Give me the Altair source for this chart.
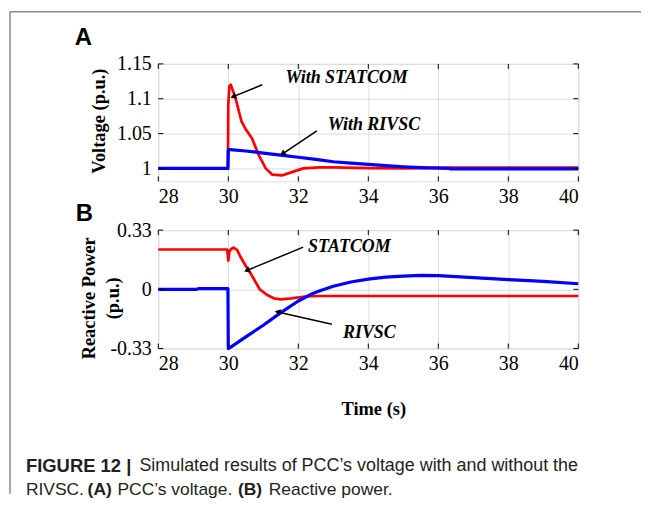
import math
import altair as alt
import pandas as pd

# ---------------- data ----------------
x_ticks = [28, 30, 32, 34, 36, 38, 40]

# Panel A: PCC voltage (p.u.)
t_v_statcom = [28, 29.99, 30.0, 30.03, 30.07, 30.2, 30.38, 30.5, 30.68, 30.87, 31.07,
               31.26, 31.55, 31.84, 32.14, 32.6, 33.0, 34.0, 35.0, 36.3, 40]
v_statcom = [1.0, 1.0, 1.09, 1.118, 1.120, 1.102, 1.067, 1.056, 1.043, 1.019, 1.0,
             0.991, 0.990, 0.995, 1.0, 1.0015, 1.0015, 1.0005, 1.0, 1.001, 1.001]
t_v_rivsc = [28, 29.99, 30.0, 30.05, 30.5, 31.0, 31.5, 32.0, 32.5, 33.0, 33.5, 34.0,
             34.5, 35.0, 35.5, 36.3, 36.35, 40]
v_rivsc = [1.0, 1.0, 1.027, 1.027, 1.025, 1.022, 1.019, 1.016, 1.013, 1.0095, 1.0075,
           1.0057, 1.004, 1.0024, 1.0012, 1.0, 0.9993, 0.9993]
v_ticks = [1.0, 1.05, 1.1, 1.15]
v_tick_labels = ["1", "1.05", "1.1", "1.15"]

# Panel B: reactive power (p.u.)
t_q_statcom = [28, 29.97, 30.0, 30.03, 30.08, 30.15, 30.25, 30.35, 30.5, 30.65, 30.9,
               31.1, 31.3, 31.5, 31.8, 32.2, 32.6, 40]
q_statcom = [0.222, 0.222, 0.16, 0.21, 0.225, 0.232, 0.22, 0.18, 0.13, 0.085, 0.0,
             -0.03, -0.05, -0.056, -0.05, -0.04, -0.037, -0.037]
t_q_rivsc = [28, 29.1, 29.15, 29.99, 30.0, 30.05, 30.5, 31.0, 31.5, 32.0, 32.4, 32.6,
             33.0, 33.5, 34.0, 34.5, 35.0, 35.5, 36.0, 37.0, 38.0, 39.0, 40]
q_rivsc = [0.0, 0.0, 0.004, 0.004, -0.33, -0.325, -0.265, -0.2, -0.13, -0.065, -0.024,
           -0.009, 0.017, 0.041, 0.057, 0.068, 0.074, 0.078, 0.076, 0.065, 0.054, 0.044, 0.031]
q_ticks = [-0.33, 0.0, 0.33]
q_tick_labels = ["-0.33", "0", "0.33"]

# annotations
ann_a_labels = ["With STATCOM", "With RIVSC"]
ann_b_labels = ["STATCOM", "RIVSC"]

# ---------------- layout constants ----------------
W = 422
H1 = 118
H2 = 119
X_DOM = [28, 40]
V_DOM = [0.9814, 1.15]
Q_DOM = [-0.33, 0.33]
RED = "#ff0000"
BLUE = "#0000ff"
SERIF = "Liberation Serif"
SANS = "Liberation Sans"


def label_expr(vals, labels):
    parts = []
    for v, l in zip(vals, labels):
        parts.append(f"abs(datum.value - ({v})) < 1e-6 ? '{l}' : ")
    return "".join(parts) + "''"


xs = alt.Scale(domain=X_DOM, nice=False, zero=False)


def make_x(show_title):
    def f(field):
        ax = alt.Axis(values=x_ticks, format="d", grid=True, ticks=False, domain=False,
                      labelPadding=5, labelFontSize=20, labelFont=SERIF, labelColor="black",
                      title="Time (s)" if show_title else None,
                      titleFont=SERIF, titleFontSize=18.5, titleFontWeight="bold",
                      titleColor="black", titleX=216, titleY=60, titleBaseline="middle")
        return alt.X(field, type="quantitative", scale=xs, axis=ax)
    return f


def y_enc(field, dom, vals, labels, title, title_x, title_y):
    ax = alt.Axis(values=vals, labelExpr=label_expr(vals, labels), grid=True, ticks=False,
                  domain=False, labelPadding=7, labelFontSize=20, labelFont=SERIF,
                  labelColor="black", title=title, titleFont=SERIF, titleFontSize=18.5,
                  titleFontWeight="bold", titleColor="black", titleX=title_x,
                  titleY=title_y, titleBaseline="middle", titleLineHeight=24)
    return alt.Y(field, type="quantitative",
                 scale=alt.Scale(domain=dom, nice=False, zero=False), axis=ax)


def series_df(ts, vs):
    return pd.DataFrame({"t": ts, "v": vs, "i": list(range(len(ts)))})


def arrow_layers(df, xf, yf, dom, H):
    sx = W / (X_DOM[1] - X_DOM[0])
    sy = H / (dom[1] - dom[0])
    ang = []
    for _, r in df.iterrows():
        dx = (r["t2"] - r["t"]) * sx
        dy = -(r["v2"] - r["v"]) * sy
        ang.append((math.degrees(math.atan2(dx, -dy)) + 360) % 360)
    df = df.copy()
    df["ang"] = ang
    rule = alt.Chart(df).mark_rule(color="black", strokeWidth=1.5).encode(
        x=xf("t"), y=yf("v"), x2="t2:Q", y2="v2:Q")
    head = alt.Chart(df).mark_point(shape="triangle-up", filled=True, color="black",
                                    size=45, opacity=1).encode(
        x=xf("t2"), y=yf("v2"), angle=alt.Angle("ang:Q", scale=None))
    return [rule, head]


def tick_layers(xvals, yvals, xf, yf, H):
    dx = pd.DataFrame({"t": xvals})
    dy = pd.DataFrame({"v": yvals})
    L = 5
    return [
        alt.Chart(dx).mark_rule(color="black", strokeWidth=1).encode(
            x=xf("t"), y=alt.value(H), y2=alt.value(H - L)),
        alt.Chart(dx).mark_rule(color="black", strokeWidth=1).encode(
            x=xf("t"), y=alt.value(0), y2=alt.value(L)),
        alt.Chart(dy).mark_rule(color="black", strokeWidth=1).encode(
            y=yf("v"), x=alt.value(0), x2=alt.value(L)),
        alt.Chart(dy).mark_rule(color="black", strokeWidth=1).encode(
            y=yf("v"), x=alt.value(W), x2=alt.value(W - L)),
    ]


one = pd.DataFrame({"a": [0]})


def fixed_text(text, x, y, size, weight="normal", font=SANS, align="left", color="black",
               style="normal"):
    return alt.Chart(one).mark_text(text=text, font=font, fontSize=size, fontWeight=weight,
                                    fontStyle=style, align=align, baseline="middle",
                                    color=color).encode(x=alt.value(x), y=alt.value(y))


def fixed_rule(x, y, x2, y2, color="#8a8a8a", width=1.5):
    return alt.Chart(one).mark_rule(color=color, strokeWidth=width).encode(
        x=alt.value(x), y=alt.value(y), x2=alt.value(x2), y2=alt.value(y2))


# ---------------- Panel A ----------------
xA = make_x(False)
yA = lambda f: y_enc(f, V_DOM, v_ticks, v_tick_labels, "Voltage (p.u.)", -60, 57)

redA = alt.Chart(series_df(t_v_statcom, v_statcom)).mark_line(
    color=RED, strokeWidth=2.7, strokeJoin="round").encode(
    x=xA("t"), y=yA("v"), order="i:Q")
blueA = alt.Chart(series_df(t_v_rivsc, v_rivsc)).mark_line(
    color=BLUE, strokeWidth=3.2, strokeJoin="round").encode(
    x=xA("t"), y=yA("v"), order="i:Q")

annA = pd.DataFrame({"t": [33.38, 34.16], "v": [1.130, 1.062], "label": ann_a_labels})
textA = alt.Chart(annA).mark_text(font=SERIF, fontSize=18, fontWeight="bold",
                                  fontStyle="italic", color="black").encode(
    x=xA("t"), y=yA("v"), text="label:N")
arrA = pd.DataFrame({"t": [30.97, 32.53], "v": [1.120, 1.054],
                     "t2": [30.14, 31.55], "v2": [1.103, 1.021]})

panelA = alt.layer(
    redA, blueA, textA, *arrow_layers(arrA, xA, yA, V_DOM, H1),
    *tick_layers(x_ticks, v_ticks, xA, yA, H1),
    fixed_text("A", -84, -26, 24, weight="bold"),
    fixed_rule(-149, -52.5, 485, -52.5),
    fixed_rule(-149, -52.5, -149, 432),
).properties(width=W, height=H1)

# ---------------- Panel B ----------------
xB = make_x(True)
yB = lambda f: y_enc(f, Q_DOM, q_ticks, q_tick_labels, ["Reactive Power", "(p.u.)"], -70, 68)

redB = alt.Chart(series_df(t_q_statcom, q_statcom)).mark_line(
    color=RED, strokeWidth=2.7, strokeJoin="round").encode(
    x=xB("t"), y=yB("v"), order="i:Q")
blueB = alt.Chart(series_df(t_q_rivsc, q_rivsc)).mark_line(
    color=BLUE, strokeWidth=3.2, strokeJoin="round").encode(
    x=xB("t"), y=yB("v"), order="i:Q")

annB = pd.DataFrame({"t": [33.46, 34.03], "v": [0.235, -0.242], "label": ann_b_labels})
textB = alt.Chart(annB).mark_text(font=SERIF, fontSize=18, fontWeight="bold",
                                  fontStyle="italic", color="black").encode(
    x=xB("t"), y=yB("v"), text="label:N")
arrB = pd.DataFrame({"t": [32.14, 32.96], "v": [0.235, -0.194],
                     "t2": [30.53, 31.41], "v2": [0.105, -0.126]})

CAP = "#231f20"
cap_y1 = 237
cap_y2 = 261
panelB = alt.layer(
    redB, blueB, textB, *arrow_layers(arrB, xB, yB, Q_DOM, H2),
    *tick_layers(x_ticks, q_ticks, xB, yB, H2),
    fixed_text("B", -83, -16, 24, weight="bold"),
    fixed_text("FIGURE 12 |", -133, cap_y1, 18.5, weight="bold", color=CAP),
    fixed_text("Simulated results of PCC\u2019s voltage with and without the", -19, cap_y1,
               18, color=CAP),
    fixed_text("RIVSC.", -133, cap_y2, 17.5, color=CAP),
    fixed_text("(A)", -71, cap_y2, 17.5, weight="bold", color=CAP),
    fixed_text("PCC\u2019s voltage.", -41, cap_y2, 17.5, color=CAP),
    fixed_text("(B)", 80, cap_y2, 17.5, weight="bold", color=CAP),
    fixed_text("Reactive power.", 111, cap_y2, 17.5, color=CAP),
).properties(width=W, height=H2)

chart = alt.vconcat(panelA, panelB, spacing=49, bounds="flush").properties(
    padding={"left": 0, "top": 1, "right": 0, "bottom": 0}
).configure_view(stroke="black", strokeWidth=1.6).configure_axis(
    gridColor="#d6d6d6", gridWidth=1
).configure(background="white")

chart.save("out.html", embed_options={"renderer": "svg", "actions": False})
